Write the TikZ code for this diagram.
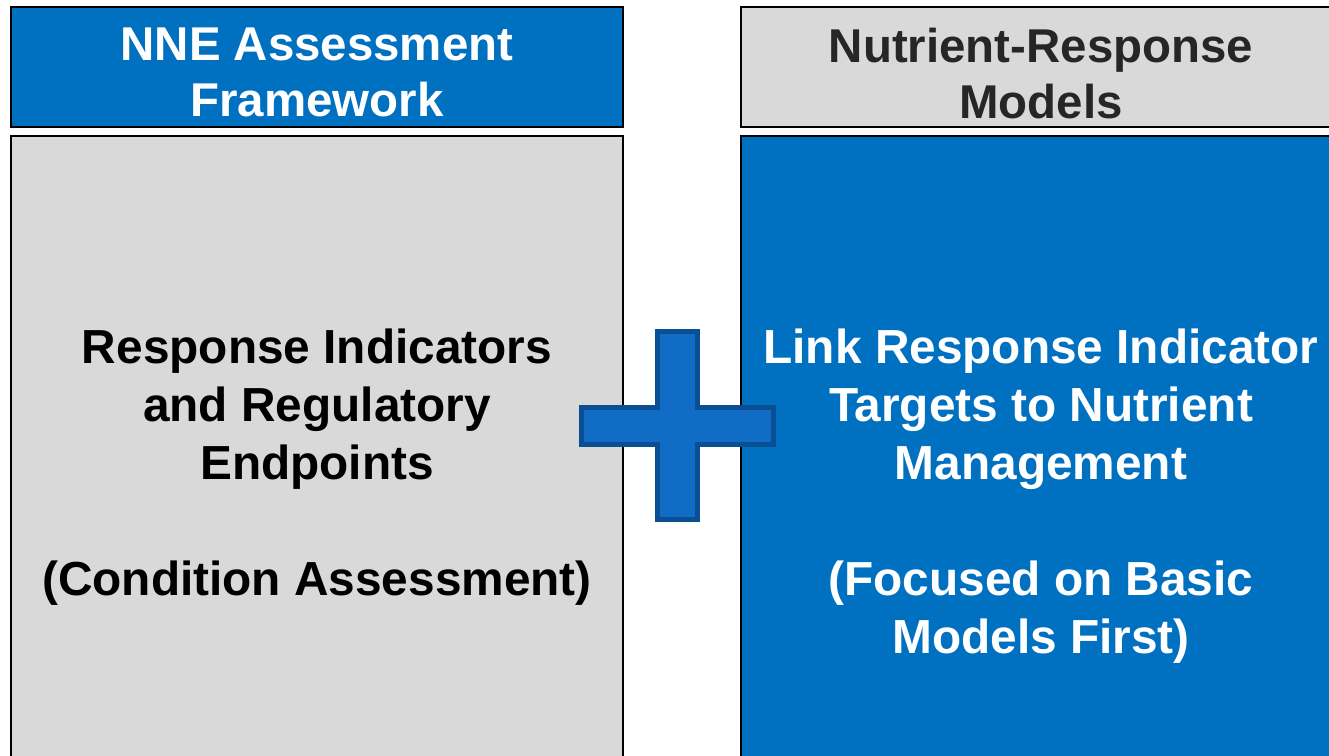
\documentclass[tikz,border=0pt]{standalone}
\usepackage{fontspec}
\setmainfont{Liberation Sans}
\usetikzlibrary{positioning}

\definecolor{boxblue}{HTML}{0070C0}
\definecolor{boxgray}{HTML}{D9D9D9}
\definecolor{plusfill}{HTML}{106CC4}
\definecolor{plusline}{HTML}{0A4F94}
\definecolor{darktext}{HTML}{262626}

\begin{document}
\begin{tikzpicture}[
        x=0.02cm, y=-0.02cm,
        box/.style={rectangle,draw=black,line width=0.8pt},
        header/.style={box,minimum height=2.4cm},
        panel/.style={box,minimum height=13.04cm},
        headtext/.style={align=center,inner sep=0pt,anchor=north,font=\bfseries\fontsize{27}{31.5}\selectfont},
        paneltext/.style={align=center,inner sep=0pt,anchor=north,font=\bfseries\fontsize{27.2}{33}\selectfont},
        plus/.style={fill=plusfill,draw=plusline,line width=2.8pt,line join=miter}
    ]

    \useasboundingbox (0,0) rectangle (1329,756);
    \clip (0,0) rectangle (1329,756);

    % left column
    \node[header,fill=boxblue,minimum width=12.24cm] (nneHead) at (317,67) {};
    \node[panel,fill=boxgray,minimum width=12.24cm] (nneBody) at (317,462) {};
    \node[headtext,text=white] (nneTitle) at (317,28)
        {NNE Assessment\\Framework};
    \node[paneltext,text=black] (nneText) at (317,329)
        {Response Indicators\\and Regulatory\\Endpoints\\[33pt](Condition Assessment)};

    % right column
    \node[header,fill=boxgray,minimum width=12cm] (modelHead) at (1041,67) {};
    \node[panel,fill=boxblue,minimum width=12cm] (modelBody) at (1041,462) {};
    \node[headtext,text=darktext] (modelTitle) at (1041,28)
        {Nutrient-Response\\Models};
    \node[paneltext,text=white] (modelText) at (1041,329)
        {Link Response Indicator\\Targets to Nutrient\\Management\\[33pt](Focused on Basic\\Models First)};

    % plus sign between the panels
    \draw[plus] (657.5,331.5) -- (697.5,331.5) -- (697.5,407.5) -- (773.5,407.5)
        -- (773.5,444.5) -- (697.5,444.5) -- (697.5,519.5) -- (657.5,519.5)
        -- (657.5,444.5) -- (581.5,444.5) -- (581.5,407.5) -- (657.5,407.5) -- cycle;

\end{tikzpicture}
\end{document}
